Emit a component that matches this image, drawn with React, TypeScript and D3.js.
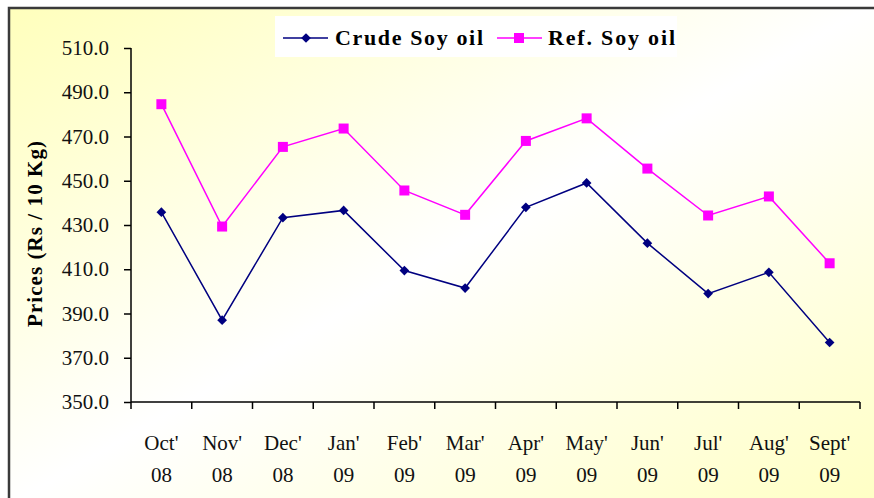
import { useEffect, useRef } from "react";
import * as d3 from "d3";

const months = ["Oct'", "Nov'", "Dec'", "Jan'", "Feb'", "Mar'", "Apr'", "May'", "Jun'", "Jul'", "Aug'", "Sept'"];
const years = ["08", "08", "08", "09", "09", "09", "09", "09", "09", "09", "09", "09"];
const crudeSoy = [435.8, 387, 433.3, 436.6, 409.4, 401.5, 438, 449, 421.8, 399, 408.6, 376.9];
const refSoy = [484.6, 429.3, 465.3, 473.6, 445.6, 434.6, 468, 478.2, 455.5, 434.3, 442.9, 412.7];
const yTicks = [350, 370, 390, 410, 430, 450, 470, 490, 510];

const W = 874;
const H = 498;
const FONT = "'Liberation Serif', 'Times New Roman', serif";

const App = () => {
  const svgRef = useRef<SVGSVGElement>(null);

  useEffect(() => {
    if (!svgRef.current) return;
    const svg = d3.select(svgRef.current);
    svg.selectAll("*").remove();

    // background gradient, yellow corners, white diagonal band
    const defs = svg.append("defs");
    const grad = defs
      .append("linearGradient")
      .attr("id", "bg")
      .attr("x1", "0%")
      .attr("y1", "0%")
      .attr("x2", "100%")
      .attr("y2", "100%");
    grad.append("stop").attr("offset", "0%").attr("stop-color", "#ffffbc");
    grad.append("stop").attr("offset", "48%").attr("stop-color", "#ffffff");
    grad.append("stop").attr("offset", "100%").attr("stop-color", "#ffffc0");

    svg.append("rect").attr("width", W).attr("height", H).attr("fill", "#ffffff");
    svg
      .append("rect")
      .attr("x", 9)
      .attr("y", 8)
      .attr("width", W + 20)
      .attr("height", H + 20)
      .attr("fill", "url(#bg)")
      .attr("stroke", "#3a3a3a")
      .attr("stroke-width", 2.5);

    const x = d3.scaleBand<string>().domain(months).range([131, 860]);
    const y = d3.scaleLinear().domain([350, 510]).range([402, 48]);

    // y axis
    const yAxis = svg
      .append("g")
      .attr("transform", `translate(${x.range()[0]},0)`)
      .call(
        d3
          .axisLeft(y)
          .tickValues(yTicks)
          .tickSize(7)
          .tickPadding(15)
          .tickFormat(d3.format(".1f"))
      );
    yAxis.select(".domain").attr("d", `M0,${y(510)}V${y(350)}`).attr("stroke", "#000").attr("stroke-width", 1.5);
    yAxis.selectAll(".tick line").attr("stroke", "#000").attr("stroke-width", 1.5);
    yAxis
      .selectAll(".tick text")
      .attr("font-family", FONT)
      .attr("font-size", 21)
      .attr("fill", "#111");

    // x axis with ticks at band edges
    const x0 = x.range()[0];
    const step = x.step();
    const xa = svg.append("g");
    xa.append("line")
      .attr("x1", x0)
      .attr("x2", x.range()[1])
      .attr("y1", y(350))
      .attr("y2", y(350))
      .attr("stroke", "#000")
      .attr("stroke-width", 1.5);
    xa.selectAll(".xt")
      .data(d3.range(months.length + 1))
      .enter()
      .append("line")
      .attr("x1", (i) => x0 + i * step)
      .attr("x2", (i) => x0 + i * step)
      .attr("y1", y(350))
      .attr("y2", y(350) + 7)
      .attr("stroke", "#000")
      .attr("stroke-width", 1.5);
    const lbl = xa
      .selectAll(".xl")
      .data(months)
      .enter()
      .append("text")
      .attr("x", (d) => (x(d) ?? 0) + x.bandwidth() / 2)
      .attr("text-anchor", "middle")
      .attr("font-family", FONT)
      .attr("font-size", 21)
      .attr("fill", "#111");
    lbl.append("tspan").attr("y", 450).text((d) => d);
    lbl
      .append("tspan")
      .attr("x", (d) => (x(d) ?? 0) + x.bandwidth() / 2)
      .attr("y", 482)
      .text((_, i) => years[i]);

    // y axis title
    svg
      .append("text")
      .attr("transform", `translate(42,234) rotate(-90)`)
      .attr("text-anchor", "middle")
      .attr("font-family", FONT)
      .attr("font-weight", "bold")
      .attr("font-size", 21)
      .attr("textLength", 186)
      .attr("lengthAdjust", "spacing")
      .attr("fill", "#000")
      .text("Prices (Rs / 10 Kg)");

    const cx = (i: number) => (x(months[i]) ?? 0) + x.bandwidth() / 2;
    const line = d3
      .line<number>()
      .x((_, i) => cx(i))
      .y((d) => y(d));

    // crude soy oil
    svg.append("path").attr("d", line(crudeSoy)).attr("fill", "none").attr("stroke", "#000080").attr("stroke-width", 1.5);
    const diamond = d3.symbol().type(d3.symbolDiamond2).size(60);
    svg
      .selectAll(".crude")
      .data(crudeSoy)
      .enter()
      .append("path")
      .attr("d", diamond)
      .attr("transform", (d, i) => `translate(${cx(i)},${y(d)})`)
      .attr("fill", "#000080");

    // refined soy oil
    svg.append("path").attr("d", line(refSoy)).attr("fill", "none").attr("stroke", "#ff00ff").attr("stroke-width", 1.5);
    svg
      .selectAll(".ref")
      .data(refSoy)
      .enter()
      .append("rect")
      .attr("x", (d, i) => cx(i) - 5)
      .attr("y", (d) => y(d) - 5)
      .attr("width", 10)
      .attr("height", 10)
      .attr("fill", "#ff00ff");

    // legend
    const lg = svg.append("g");
    lg.append("rect").attr("x", 275).attr("y", 16).attr("width", 402).attr("height", 41).attr("fill", "#ffffff");
    lg.append("line").attr("x1", 283).attr("x2", 328).attr("y1", 38).attr("y2", 38).attr("stroke", "#000080").attr("stroke-width", 1.5);
    lg.append("path").attr("d", diamond).attr("transform", "translate(306,38)").attr("fill", "#000080");
    lg.append("text")
      .attr("x", 335)
      .attr("y", 45)
      .attr("font-family", FONT)
      .attr("font-weight", "bold")
      .attr("font-size", 22)
      .attr("textLength", 148)
      .attr("lengthAdjust", "spacing")
      .text("Crude Soy oil");
    lg.append("line").attr("x1", 497).attr("x2", 542).attr("y1", 38).attr("y2", 38).attr("stroke", "#ff00ff").attr("stroke-width", 1.5);
    lg.append("rect").attr("x", 514).attr("y", 33).attr("width", 10).attr("height", 10).attr("fill", "#ff00ff");
    lg.append("text")
      .attr("x", 548)
      .attr("y", 45)
      .attr("font-family", FONT)
      .attr("font-weight", "bold")
      .attr("font-size", 22)
      .attr("textLength", 127)
      .attr("lengthAdjust", "spacing")
      .text("Ref. Soy oil");
  }, []);

  return (
    <svg
      ref={svgRef}
      width={W}
      height={H}
      style={{ position: "absolute", left: 0, top: 0 }}
    />
  );
};

export default App;
